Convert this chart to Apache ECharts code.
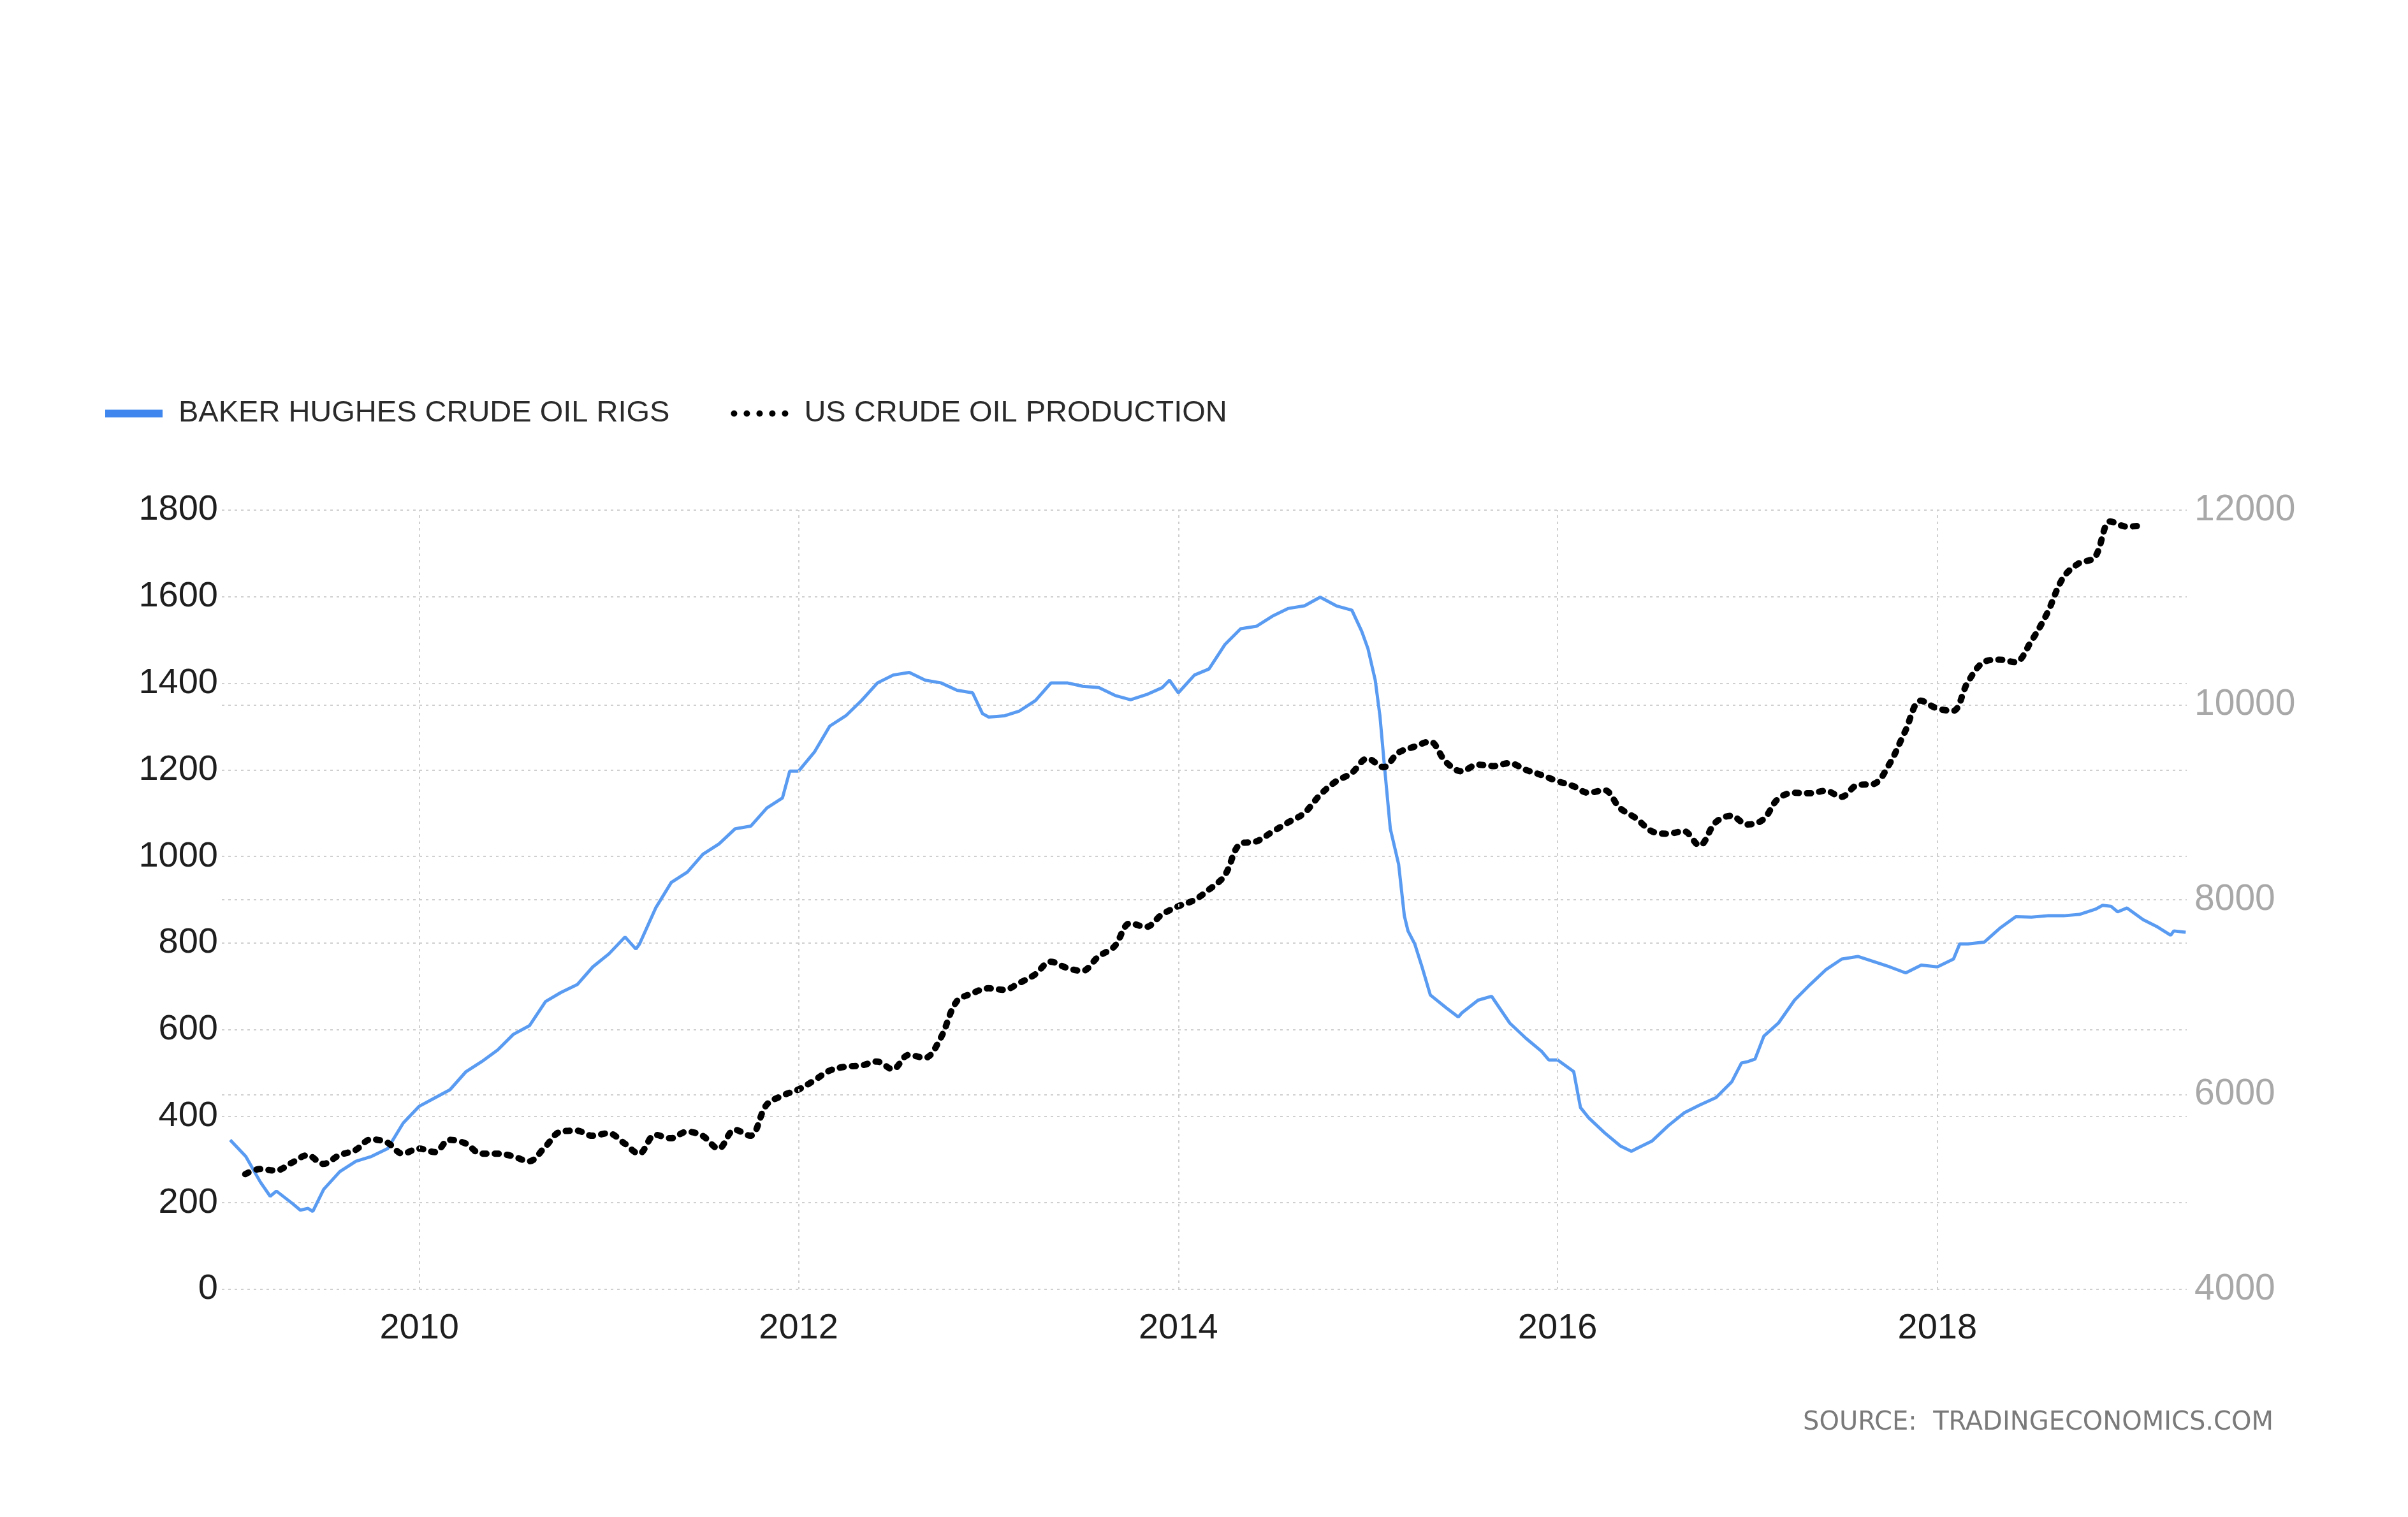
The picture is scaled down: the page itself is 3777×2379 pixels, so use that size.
<!DOCTYPE html>
<html>
<head>
<meta charset="utf-8">
<script src="https://cdn.jsdelivr.net/npm/echarts@6/dist/echarts.min.js"></script>
<style>
html,body{margin:0;padding:0;background:#fff;}
#chart{width:3777px;height:2379px;}
</style>
</head>
<body>
<div id="chart"></div>
<script>
// ---- Data ----
const rigName = 'BAKER HUGHES CRUDE OIL RIGS';
const prodName = 'US CRUDE OIL PRODUCTION';
const sourceText = 'SOURCE:  TRADINGECONOMICS.COM';

const rigDates = [
 '2009-01-02','2009-02-01','2009-03-01','2009-03-20','2009-04-01','2009-05-01','2009-05-17','2009-06-01','2009-06-10','2009-07-01','2009-08-01','2009-09-01','2009-10-01','2009-11-01','2009-12-01',
 '2010-01-01','2010-02-01','2010-03-01','2010-04-01','2010-05-01','2010-06-01','2010-07-01','2010-08-01','2010-09-01','2010-10-01','2010-11-01','2010-12-01',
 '2011-01-01','2011-02-01','2011-02-22','2011-03-01','2011-04-01','2011-05-01','2011-06-01','2011-07-01','2011-08-01','2011-09-01','2011-10-01','2011-11-01','2011-12-01','2011-12-15',
 '2012-01-01','2012-02-01','2012-03-01','2012-04-01','2012-05-01','2012-06-01','2012-07-01','2012-08-01','2012-09-01','2012-10-01','2012-11-01','2012-12-01','2012-12-20',
 '2013-01-01','2013-02-01','2013-03-01','2013-04-01','2013-05-01','2013-06-01','2013-07-01','2013-08-01','2013-09-01','2013-10-01','2013-11-01','2013-12-01','2013-12-15',
 '2014-01-01','2014-02-01','2014-03-01','2014-04-01','2014-05-01','2014-06-01','2014-07-01','2014-08-01','2014-09-01','2014-10-01','2014-11-01','2014-12-01','2014-12-20',
 '2015-01-01','2015-01-15','2015-01-24','2015-02-01','2015-02-13','2015-03-01','2015-03-12','2015-03-19','2015-04-01','2015-04-15','2015-05-01','2015-06-01','2015-06-24','2015-07-01','2015-08-01','2015-08-27','2015-09-01','2015-10-01','2015-11-01','2015-12-01','2015-12-15',
 '2016-01-01','2016-02-01','2016-02-14','2016-03-01','2016-04-01','2016-05-01','2016-05-22','2016-06-01','2016-07-01','2016-08-01','2016-09-01','2016-10-01','2016-11-01','2016-12-01','2016-12-20',
 '2017-01-01','2017-01-15','2017-02-01','2017-03-01','2017-04-01','2017-05-01','2017-06-01','2017-07-01','2017-08-01','2017-09-01','2017-10-01','2017-11-01','2017-12-01',
 '2018-01-01','2018-02-01','2018-02-13','2018-03-01','2018-04-01','2018-05-01','2018-06-01','2018-07-01','2018-08-01','2018-09-01','2018-10-01','2018-11-01','2018-11-15','2018-12-01','2018-12-14',
 '2019-01-01','2019-02-01','2019-03-01','2019-03-26','2019-04-01','2019-04-24'
];
const rigValues = [
 345,307,248,215,227,199,183,187,180,231,272,296,307,325,384,
 423,443,461,503,526,553,589,609,665,686,704,745,
 775,814,786,798,881,940,964,1005,1029,1064,1070,1112,1135,1197,
 1197,1242,1301,1325,1360,1401,1419,1425,1407,1401,1384,1378,1330,
 1322,1325,1336,1360,1401,1401,1393,1390,1372,1362,1374,1390,1407,
 1378,1419,1433,1490,1526,1532,1555,1573,1579,1599,1579,1569,1520,
 1480,1407,1325,1218,1064,982,863,828,798,745,680,650,629,639,668,677,668,615,580,550,530,
 530,503,420,396,361,331,319,325,343,378,408,426,443,479,523,
 526,532,585,615,668,704,739,763,769,757,745,731,749,
 745,763,798,798,802,834,861,860,863,863,866,878,887,885,872,
 881,854,837,818,828,825
];

// Monthly US crude oil production, Jan 2009 .. Jan 2019 (thousand bbl/day)
const prodStartYear = 2009;
const prodValues = [
 5183,5235,5219,5298,5377,5288,5377,5430,5540,5508,5393,5445,
 5409,5535,5498,5393,5393,5367,5314,5461,5619,5629,5577,5603,
 5498,5393,5587,5551,5619,5577,5445,5640,5577,5892,5987,6050,
 6144,6244,6286,6297,6339,6260,6407,6376,6575,6954,7038,7091,
 7075,7143,7232,7364,7301,7269,7416,7521,7758,7721,7847,7931,
 7995,8100,8247,8573,8599,8694,8793,8888,9072,9214,9298,9450,
 9361,9508,9571,9624,9414,9319,9387,9372,9403,9335,9282,9219,
 9167,9098,9125,8941,8836,8704,8678,8704,8557,8794,8862,8772,
 8825,9035,9098,9093,9119,9056,9177,9188,9387,9729,10044,9965,
 9939,10228,10439,10465,10439,10649,10938,11306,11453,11516,11884,11831,
 11842
];

const yearLabels = [2010, 2012, 2014, 2016, 2018];
const xStart = '2008-12-17';
const xEnd = '2019-04-26';

// ---- Build ----
function ts(s){ const p = s.split('-').map(Number); return new Date(p[0], p[1]-1, p[2]).getTime(); }
const rigData = rigDates.map((d,i)=>[ts(d), rigValues[i]]);
const prodData = prodValues.map((v,i)=>[new Date(prodStartYear, i+1, 0).getTime(), v]);
const yearLines = yearLabels.map(y=>({xAxis: new Date(y,0,1).getTime()}));

const gridColor = '#cfcfcf';
const gridDash = [4,6];
const font = '"Liberation Sans", Arial, sans-serif';

const chart = echarts.init(document.getElementById('chart'), null, {renderer:'canvas', devicePixelRatio:1});
chart.setOption({
  animation:false,
  backgroundColor:'#ffffff',
  grid:{left:348, right:347, top:800, bottom:357, containLabel:false},
  legend:{
    left:160, top:620,
    itemGap:96, itemWidth:90, itemHeight:12,
    textStyle:{fontFamily:font, fontSize:47, color:'#2a2a2a', padding:[0,0,0,20]},
    data:[
      {name:rigName, icon:'rect', itemStyle:{color:'#3f87ee'}},
      {name:prodName, icon:'path://M0,1a1,1 0 1 1 2,0a1,1 0 1 1 -2,0zM4,1a1,1 0 1 1 2,0a1,1 0 1 1 -2,0zM8,1a1,1 0 1 1 2,0a1,1 0 1 1 -2,0zM12,1a1,1 0 1 1 2,0a1,1 0 1 1 -2,0zM16,1a1,1 0 1 1 2,0a1,1 0 1 1 -2,0z', itemStyle:{color:'#000'}}
    ]
  },
  xAxis:{
    type:'time',
    min: ts(xStart), max: ts(xEnd),
    minInterval: 365*86400000, maxInterval: 366*86400000,
    axisLine:{show:false}, axisTick:{show:false},
    splitLine:{show:false},
    axisLabel:{
      fontFamily:font, fontSize:56, color:'#1e1e1e', margin:34,
      formatter:function(v){ const d=new Date(v); return (d.getMonth()===0 && d.getDate()===1 && yearLabels.indexOf(d.getFullYear())>=0) ? String(d.getFullYear()) : ''; }
    }
  },
  yAxis:[
    {type:'value', min:0, max:1800, interval:200, position:'left',
     axisLine:{show:false}, axisTick:{show:false},
     axisLabel:{fontFamily:font, fontSize:56, color:'#1e1e1e', margin:6, formatter:function(v){return String(v);}},
     splitLine:{show:true, lineStyle:{color:gridColor, width:2, type:gridDash}}},
    {type:'value', min:4000, max:12000, interval:2000, position:'right',
     axisLine:{show:false}, axisTick:{show:false},
     axisLabel:{fontFamily:font, fontSize:57, color:'#a8a8a8', margin:12, formatter:function(v){return String(v);}},
     splitLine:{show:true, lineStyle:{color:gridColor, width:2, type:gridDash}}}
  ],
  series:[
    {name:rigName, type:'line', yAxisIndex:0, data:rigData, showSymbol:false, symbol:'none',
     lineStyle:{color:'#5a9bf2', width:5}, itemStyle:{color:'#3f87ee'},
     markLine:{silent:true, symbol:['none','none'], label:{show:false},
       lineStyle:{color:gridColor, width:2, type:gridDash}, data:yearLines}},
    {name:prodName, type:'line', yAxisIndex:1, data:prodData, showSymbol:false, symbol:'none', smooth:0.35,
     lineStyle:{color:'#000', width:10, type:[6,13], cap:'round'}, itemStyle:{color:'#000'}}
  ],
  graphic:[
    {type:'text', right:211, top:2212, style:{text:sourceText, font:'40px "DejaVu Sans", sans-serif', fill:'#7a7a7a'}}
  ]
});
</script>
</body>
</html>
